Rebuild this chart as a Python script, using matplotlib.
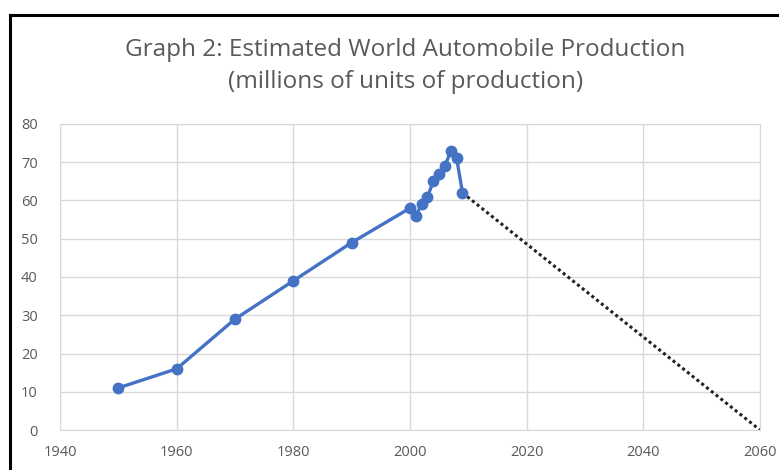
import matplotlib.pyplot as plt
from matplotlib.lines import Line2D

years = [1950, 1960, 1970, 1980, 1990, 2000, 2001, 2002, 2003, 2004, 2005, 2006, 2007, 2008, 2009]
production = [11, 16, 29, 39, 49, 58, 56, 59, 61, 65, 67, 69, 73, 71, 62]
trend_years = [2009, 2060]
trend_values = [62, 0]

x_ticks = [1940, 1960, 1980, 2000, 2020, 2040, 2060]
y_ticks = [0, 10, 20, 30, 40, 50, 60, 70, 80]

plt.rcParams['font.family'] = ['Open Sans', 'DejaVu Sans']

fig = plt.figure(figsize=(7.79, 4.70), dpi=100)
ax = fig.add_axes([60 / 779, 40 / 470, 700 / 779, 306 / 470])

ax.plot(years, production, color='#4472C4', linewidth=2.4, marker='o', markersize=7.5, zorder=3)
ax.plot(trend_years, trend_values, color='#222222', linestyle=(0, (1, 1)), linewidth=2.2, zorder=2)

ax.set_xlim(1940, 2060)
ax.set_ylim(0, 80)
ax.set_xticks(x_ticks)
ax.set_yticks(y_ticks)
ax.grid(color='#d9d9d9', linewidth=1)
ax.set_axisbelow(True)
for s in ax.spines.values():
    s.set_color('#d9d9d9')
ax.tick_params(length=0, colors='#595959', labelsize=10.5)
ax.tick_params(axis='y', pad=16)
ax.tick_params(axis='x', pad=11)

fig.text(0.52, 0.894, "Graph 2: Estimated World Automobile Production", ha='center', va='center',
         fontsize=17.5, color='#595959')
fig.text(0.52, 0.825, "(millions of units of production)", ha='center', va='center',
         fontsize=17.5, color='#595959')

# black frame around the chart (cropped at right and bottom)
fig.add_artist(Line2D([9.5 / 779, 1], [455.5 / 470, 455.5 / 470], color='black', linewidth=2.2))
fig.add_artist(Line2D([9.5 / 779, 9.5 / 779], [0, 455.5 / 470], color='black', linewidth=2.2))

fig.savefig('out.png', dpi=100)
